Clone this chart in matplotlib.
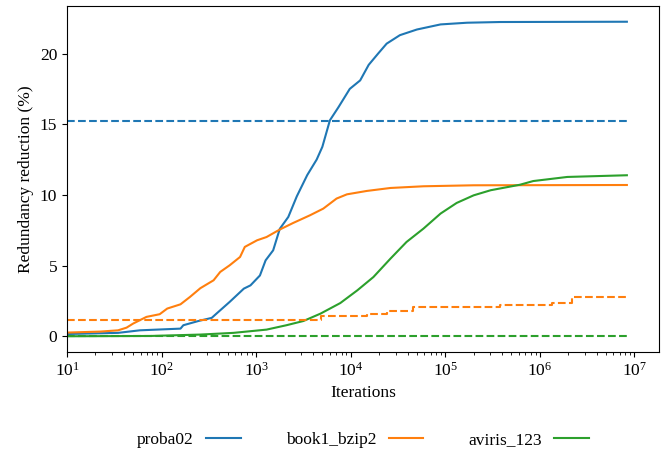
import numpy
import matplotlib
matplotlib.use('Agg')
import matplotlib.pyplot as plt

######################################################################
# values (x given as log10 of the iteration count)

labels = ['proba02', 'book1_bzip2', 'aviris_123']

proba_logx = numpy.array([1.00, 1.54, 1.77, 2.20, 2.23, 2.39, 2.53, 2.58,
                          2.72, 2.87, 2.94, 3.04, 3.10, 3.18, 3.25, 3.34,
                          3.43, 3.54, 3.64, 3.70, 3.78, 3.87, 3.99, 4.10,
                          4.19, 4.29, 4.38, 4.52, 4.70, 4.95, 5.23, 5.58,
                          6.92])
proba_red = numpy.array([0.16, 0.24, 0.42, 0.54, 0.78, 1.08, 1.30, 1.60,
                         2.43, 3.37, 3.60, 4.30, 5.37, 6.08, 7.60, 8.44,
                         9.90, 11.4, 12.5, 13.4, 15.28, 16.2, 17.5, 18.1,
                         19.2, 20.0, 20.7, 21.3, 21.7, 22.06, 22.18, 22.23,
                         22.25])

book_logx = numpy.array([1.00, 1.35, 1.54, 1.63, 1.70, 1.84, 1.98, 2.06,
                         2.20, 2.30, 2.41, 2.55, 2.62, 2.72, 2.83, 2.88,
                         3.01, 3.11, 3.25, 3.39, 3.57, 3.71, 3.85, 3.96,
                         4.17, 4.42, 4.77, 5.30, 6.92])
book_red = numpy.array([0.26, 0.33, 0.42, 0.61, 0.90, 1.37, 1.56, 1.96,
                        2.26, 2.78, 3.40, 3.96, 4.55, 5.02, 5.61, 6.32,
                        6.79, 7.02, 7.55, 8.01, 8.56, 9.03, 9.74, 10.04,
                        10.28, 10.49, 10.61, 10.68, 10.70])

aviris_logx = numpy.array([1.00, 1.88, 2.41, 2.76, 3.11, 3.32, 3.50, 3.68,
                           3.89, 4.07, 4.24, 4.42, 4.59, 4.77, 4.95, 5.12,
                           5.30, 5.48, 5.79, 5.93, 6.29, 6.92])
aviris_red = numpy.array([0.00, 0.02, 0.12, 0.24, 0.47, 0.78, 1.08, 1.60,
                          2.35, 3.25, 4.19, 5.49, 6.67, 7.62, 8.68, 9.43,
                          9.97, 10.33, 10.72, 10.98, 11.27, 11.39])

# dashed reference levels
proba_ref = 15.25
book_ref_logx = numpy.array([1.00, 3.69, 4.17, 4.38, 4.66, 5.58, 6.13, 6.34, 6.92])
book_ref = numpy.array([1.15, 1.44, 1.60, 1.79, 2.07, 2.24, 2.36, 2.78, 2.78])
aviris_ref = 0.0

######################################################################

plt.rcParams['font.family'] = ['Liberation Serif', 'DejaVu Serif']
plt.rcParams['mathtext.fontset'] = 'stix'
plt.rcParams['font.size'] = 12.5

fig = plt.figure(figsize=(6.72, 4.55), dpi=100)
ax = fig.add_axes([0.0997, 0.2264, 0.881, 0.7604])

x_lo = 10.0 ** proba_logx[0]
x_hi = 10.0 ** proba_logx[-1]

ax.plot(10.0 ** proba_logx, proba_red, color='C0', label=labels[0])
ax.plot(10.0 ** book_logx, book_red, color='C1', label=labels[1])
ax.plot(10.0 ** aviris_logx, aviris_red, color='C2', label=labels[2])

ax.plot([x_lo, x_hi], [proba_ref, proba_ref], '--', color='C0')
ax.plot(10.0 ** book_ref_logx, book_ref, '--', color='C1',
        drawstyle='steps-post')
ax.plot([x_lo, x_hi], [aviris_ref, aviris_ref], '--', color='C2')

ax.set_xscale('log')
ax.set_xlim(10, 10 ** 7.26)
ax.set_yticks([0, 5, 10, 15, 20])

ax.set_xlabel('Iterations')
ax.set_ylabel('Redundancy reduction (%)')

fig.legend(loc='center', bbox_to_anchor=(363 / 672, 0.033), ncol=3,
           frameon=False, markerfirst=False, columnspacing=2.6,
           handletextpad=0.7, handlelength=2.0)

fig.savefig('out.png', dpi=100)
